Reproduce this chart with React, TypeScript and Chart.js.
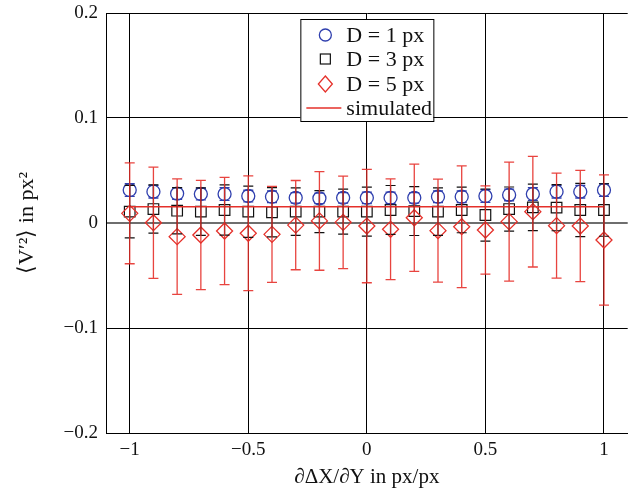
import React, { useEffect, useRef } from "react";
import { Chart, registerables } from "chart.js";

Chart.register(...registerables);

// Slope values dX/dY (px/px)
const slopes = [-1, -0.9, -0.8, -0.7, -0.6, -0.5, -0.4, -0.3, -0.2, -0.1, 0, 0.1, 0.2, 0.3, 0.4, 0.5, 0.6, 0.7, 0.8, 0.9, 1];

// Mean V'^2 for each particle diameter, with standard deviations
const d1Mean = [0.0314, 0.0298, 0.028, 0.0276, 0.0276, 0.0257, 0.025, 0.024, 0.0235, 0.024, 0.024, 0.024, 0.024, 0.025, 0.025, 0.0257, 0.0267, 0.0276, 0.0298, 0.0298, 0.0314];
const d1Err = [0.006, 0.006, 0.0055, 0.0055, 0.006, 0.0055, 0.0055, 0.005, 0.005, 0.005, 0.0055, 0.0055, 0.005, 0.0055, 0.0055, 0.006, 0.0055, 0.006, 0.006, 0.006, 0.006];

const d3Mean = [0.0108, 0.0133, 0.0117, 0.0108, 0.0124, 0.0108, 0.0102, 0.0108, 0.0108, 0.0108, 0.0108, 0.0124, 0.0114, 0.0108, 0.0124, 0.0076, 0.0133, 0.0149, 0.0146, 0.0124, 0.0124];
const d3Err = [0.025, 0.023, 0.022, 0.0226, 0.024, 0.0244, 0.0235, 0.0226, 0.02, 0.0214, 0.0233, 0.0233, 0.0233, 0.0226, 0.0217, 0.0248, 0.021, 0.0222, 0.022, 0.0254, 0.025];

const d5Mean = [0.0092, 0.0003, -0.013, -0.0114, -0.0076, -0.0098, -0.0108, -0.002, 0.002, 0.0006, -0.0029, -0.006, 0.005, -0.0073, -0.0035, -0.0067, 0.0013, 0.0108, -0.0025, -0.0029, -0.0162];
const d5Err = [0.048, 0.053, 0.055, 0.052, 0.051, 0.0546, 0.0457, 0.0425, 0.047, 0.044, 0.054, 0.048, 0.051, 0.049, 0.058, 0.042, 0.0567, 0.0527, 0.05, 0.053, 0.062];

// Simulated value (constant over slope)
const simulated = [0.0155, 0.0155, 0.0155, 0.0155, 0.0155, 0.0155, 0.0155, 0.0155, 0.0155, 0.0155, 0.0155, 0.0155, 0.0155, 0.0155, 0.0155, 0.0155, 0.0155, 0.0155, 0.0155, 0.0155, 0.0155];

const xTicks = [-1, -0.5, 0, 0.5, 1];
const yTicks = [-0.2, -0.1, 0, 0.1, 0.2];

const legendLabels = ["D = 1 px", "D = 3 px", "D = 5 px", "simulated"];

const BLUE = "#2f3fae";
const BLACK = "#111111";
const RED = "#e5302a";
const FONT = "'Liberation Serif', 'Times New Roman', serif";

const fmt = (v: number) => {
  const r = Math.round(v * 1000) / 1000;
  if (r === 0) return "0";
  return r < 0 ? "\u2212" + String(Math.abs(r)) : String(r);
};

const pts = (ys: number[]) => slopes.map((x, i) => ({ x, y: ys[i] }));

const errorSets: { err: number[]; mean: number[]; color: string; lw: number }[] = [
  { mean: d1Mean, err: d1Err, color: BLUE, lw: 1.3 },
  { mean: d3Mean, err: d3Err, color: BLACK, lw: 1.2 },
  { mean: d5Mean, err: d5Err, color: "rgba(229,48,42,0.9)", lw: 1.3 },
];

const errorBarPlugin = {
  id: "errorBars",
  afterDatasetsDraw(chart: any) {
    const { ctx, scales } = chart;
    const xs = scales.x;
    const ys = scales.y;
    ctx.save();
    for (const set of errorSets) {
      ctx.strokeStyle = set.color;
      ctx.lineWidth = set.lw;
      const cap = 5;
      slopes.forEach((xv, i) => {
        const px = xs.getPixelForValue(xv);
        const top = ys.getPixelForValue(set.mean[i] + set.err[i]);
        const bot = ys.getPixelForValue(set.mean[i] - set.err[i]);
        ctx.beginPath();
        ctx.moveTo(px, top);
        ctx.lineTo(px, bot);
        ctx.moveTo(px - cap, top);
        ctx.lineTo(px + cap, top);
        ctx.moveTo(px - cap, bot);
        ctx.lineTo(px + cap, bot);
        ctx.stroke();
      });
    }
    ctx.restore();
  },
};

const boxLegendPlugin = {
  id: "boxLegend",
  afterDraw(chart: any) {
    const { ctx, chartArea } = chart;
    const w = 133;
    const h = 102;
    const left = (chartArea.left + chartArea.right) / 2 - w / 2;
    const top = chartArea.top + 6;
    ctx.save();
    ctx.fillStyle = "#ffffff";
    ctx.fillRect(left, top, w, h);
    ctx.strokeStyle = "#000000";
    ctx.lineWidth = 1;
    ctx.strokeRect(left + 0.5, top + 0.5, w, h);

    const mx = left + 25;
    const tx = left + 46;
    const rows = [top + 16, top + 40, top + 65, top + 89];

    // circle
    ctx.strokeStyle = BLUE;
    ctx.lineWidth = 1.3;
    ctx.beginPath();
    ctx.arc(mx, rows[0], 6, 0, Math.PI * 2);
    ctx.stroke();
    // square
    ctx.strokeStyle = BLACK;
    ctx.lineWidth = 1.2;
    ctx.strokeRect(mx - 5, rows[1] - 5, 10, 10);
    // diamond
    ctx.strokeStyle = RED;
    ctx.lineWidth = 1.3;
    ctx.beginPath();
    ctx.moveTo(mx, rows[2] - 8);
    ctx.lineTo(mx + 7, rows[2]);
    ctx.lineTo(mx, rows[2] + 8);
    ctx.lineTo(mx - 7, rows[2]);
    ctx.closePath();
    ctx.stroke();
    // line
    ctx.beginPath();
    ctx.moveTo(left + 6, rows[3]);
    ctx.lineTo(left + 41, rows[3]);
    ctx.stroke();

    ctx.fillStyle = "#111111";
    ctx.font = `22px ${FONT}`;
    ctx.textBaseline = "middle";
    ctx.textAlign = "left";
    legendLabels.forEach((t, i) => {
      ctx.fillText(t, tx, rows[i] + 1);
    });
    ctx.restore();
  },
};

export default function App() {
  const ref = useRef<HTMLCanvasElement>(null);

  useEffect(() => {
    document.body.style.margin = "0";
    const canvas = ref.current!;
    const chart = new Chart(canvas, {
      type: "scatter",
      data: {
        datasets: [
          {
            label: legendLabels[0],
            data: pts(d1Mean),
            pointStyle: "circle",
            pointRadius: 6.5,
            pointBorderWidth: 1.3,
            borderColor: BLUE,
            backgroundColor: "rgba(0,0,0,0)",
            order: 4,
          },
          {
            label: legendLabels[1],
            data: pts(d3Mean),
            pointStyle: "rect",
            pointRadius: 7.5,
            pointBorderWidth: 1.2,
            borderColor: BLACK,
            backgroundColor: "rgba(0,0,0,0)",
            order: 3,
          },
          {
            label: legendLabels[3],
            type: "line",
            data: pts(simulated),
            showLine: true,
            pointRadius: 0,
            borderColor: RED,
            borderWidth: 1.3,
            fill: false,
            order: 2,
          } as any,
          {
            label: legendLabels[2],
            data: pts(d5Mean),
            pointStyle: "rectRot",
            pointRadius: 8,
            pointBorderWidth: 1.3,
            borderColor: RED,
            backgroundColor: "rgba(0,0,0,0)",
            order: 1,
          },
        ],
      },
      options: {
        animation: false,
        responsive: false,
        layout: { padding: { top: 13, right: 6, left: 0, bottom: 0 } },
        plugins: {
          legend: { display: false },
          tooltip: { enabled: false },
        },
        scales: {
          x: {
            type: "linear",
            min: -1.1,
            max: 1.1,
            afterBuildTicks: (s: any) => {
              s.ticks = xTicks.map((v) => ({ value: v }));
            },
            afterFit: (s: any) => {
              s.height = 62;
              s.paddingLeft = 0;
              s.paddingRight = 0;
            },
            ticks: {
              color: "#111",
              font: { family: FONT, size: 19 },
              padding: 6,
              maxRotation: 0,
              callback: (v: any) => fmt(Number(v)),
            },
            grid: { color: "#000", lineWidth: 1, drawTicks: false },
            border: { display: true, color: "#000", width: 1 },
            title: {
              display: true,
              text: "\u2202\u0394X/\u2202Y in px/px",
              color: "#111",
              font: { family: FONT, size: 21 },
              padding: { top: 0, bottom: 5 },
            },
          },
          y: {
            type: "linear",
            min: -0.2,
            max: 0.2,
            afterBuildTicks: (s: any) => {
              s.ticks = yTicks.map((v) => ({ value: v }));
            },
            afterFit: (s: any) => {
              s.width = 106;
              s.paddingTop = 0;
              s.paddingBottom = 0;
            },
            ticks: {
              color: "#111",
              font: { family: FONT, size: 19 },
              padding: 8,
              callback: (v: any) => fmt(Number(v)),
            },
            grid: {
              color: (c: any) => (c.tick && Math.abs(c.tick.value) < 1e-9 ? "#6e6e6e" : "#000"),
              lineWidth: (c: any) => (c.tick && Math.abs(c.tick.value) < 1e-9 ? 2 : 1),
              drawTicks: false,
            },
            border: { display: true, color: "#000", width: 1 },
            title: {
              display: true,
              text: "\u27E8V\u2032\u00B2\u27E9 in px\u00B2",
              color: "#111",
              font: { family: FONT, size: 22 },
              padding: { top: 14, bottom: 0 },
            },
          },
        },
      },
      plugins: [errorBarPlugin, boxLegendPlugin],
    });
    return () => chart.destroy();
  }, []);

  return (
    <div style={{ position: "absolute", left: 0, top: 0, width: 637, height: 495, background: "#fff" }}>
      <canvas ref={ref} width={637} height={495} />
    </div>
  );
}
